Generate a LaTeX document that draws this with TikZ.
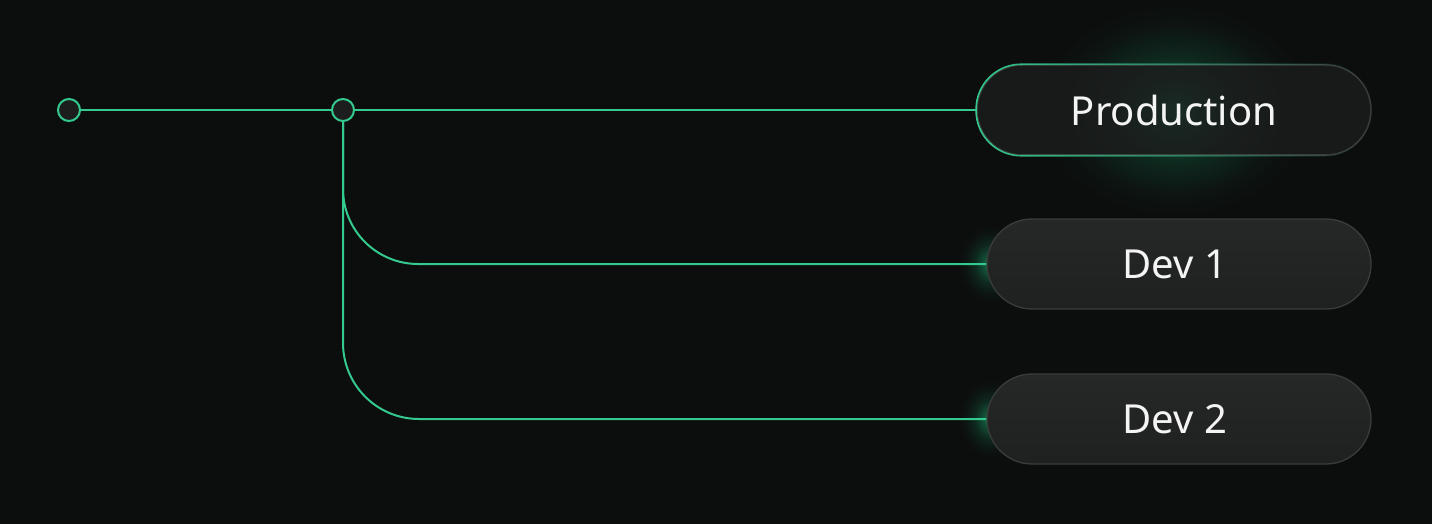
\documentclass[tikz,border=0pt]{standalone}
\usepackage{fontspec}
\setmainfont{Noto Sans}
\usetikzlibrary{fadings}
\definecolor{bg}{HTML}{0C0D0D}
\definecolor{lg}{HTML}{34C98E}
\definecolor{glowc}{HTML}{168A5C}
\definecolor{nodefill}{HTML}{1B1C1C}
\definecolor{dottfill}{HTML}{1C1D1D}
\definecolor{devtop}{HTML}{262727}
\definecolor{devbot}{HTML}{1F2020}
\definecolor{devborder}{HTML}{3A3B3B}
\definecolor{txt}{HTML}{F4F4F4}
\pgfdeclareradialshading{glow}{\pgfpoint{0bp}{0bp}}{color(0bp)=(glowc); color(5bp)=(glowc!55!bg); color(12bp)=(glowc!22!bg); color(19bp)=(glowc!6!bg); color(25bp)=(bg); color(50bp)=(bg)}
\tikzfading[name=fadeR, left color=transparent!0, middle color=transparent!5, right color=transparent!100]
\tikzfading[name=fadeV, top color=transparent!100, middle color=transparent!0, bottom color=transparent!100]
\begin{document}
\begin{tikzpicture}[x=1pt,y=-1pt,
  link/.style={draw=lg, line width=2pt},
  dot/.style={circle, draw=lg, line width=2pt, fill=dottfill, minimum size=22pt, inner sep=0pt},
  pill/.style={rectangle, rounded corners=45pt, minimum height=90pt, inner sep=0pt, text=txt, font=\fontsize{40}{42}\selectfont},
]
\fill[bg] (0,0) rectangle (1432,524);
% glows
\shade[shading=glow] (1175,110) ellipse [x radius=140pt, y radius=110pt];
\shade[shading=glow] (990,264) ellipse [x radius=32pt, y radius=40pt];
\shade[shading=glow] (990,419) ellipse [x radius=32pt, y radius=40pt];
% nodes
\node[pill, minimum width=394pt, fill=nodefill, fill opacity=0.85, text opacity=1, draw=devborder, line width=1.5pt] (prod) at (1174,110) {Production};
\draw[lg, line width=1.6pt, path fading=fadeR, rounded corners=45pt] (prod.south west) rectangle (prod.north east);
\node[pill, minimum width=384pt, draw=devborder, line width=1.3pt, top color=devtop, bottom color=devbot] (d1) at (1179,264) {\hspace*{-8pt}Dev 1};
\node[pill, minimum width=384pt, draw=devborder, line width=1.3pt, top color=devtop, bottom color=devbot] (d2) at (1179,419) {\hspace*{-8pt}Dev 2};
\draw[lg, line width=1.6pt, path fading=fadeV] ([xshift=45pt]d1.west) ++(155:45pt) arc[start angle=155, end angle=205, radius=45pt];
\draw[lg, line width=1.6pt, path fading=fadeV] ([xshift=45pt]d2.west) ++(155:45pt) arc[start angle=155, end angle=205, radius=45pt];
% dots
\node[dot] (c1) at (69,110) {};
\node[dot] (c2) at (343,110) {};
% links
\draw[link] (c1) -- (c2);
\draw[link] (c2) -- (prod.west);
\draw[link, rounded corners=75pt] (c2.south) |- (d1.west);
\draw[link, rounded corners=76pt] (c2.south) |- (d2.west);
\end{tikzpicture}
\end{document}
